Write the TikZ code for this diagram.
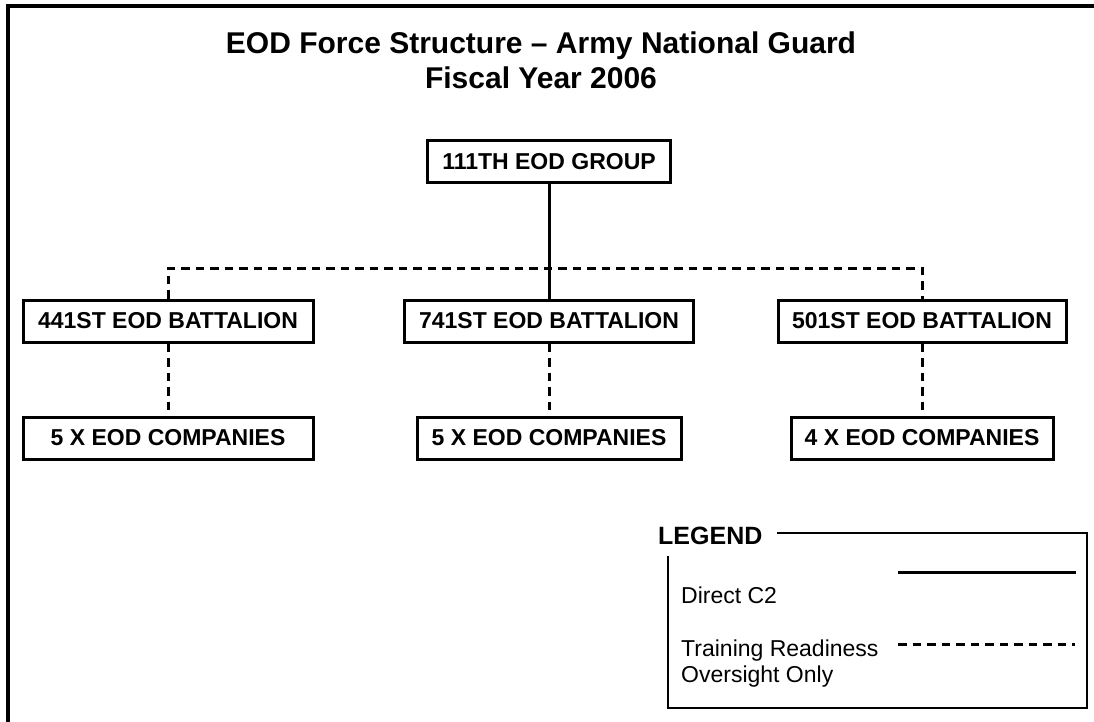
\documentclass[tikz,border=0pt]{standalone}
\usepackage{fontspec}
\setmainfont{Liberation Sans}
\usetikzlibrary{positioning,calc}

\tikzset{
  unitbox/.style={draw, line width=3pt, minimum height=42pt, inner sep=0pt,
    font=\bfseries\fontsize{23}{27}\selectfont},
  c2line/.style={line width=3pt},
  trainline/.style={line width=3pt, dash pattern=on 8.5pt off 6pt},
}

\begin{document}
\begin{tikzpicture}[x=1pt,y=-1pt]
      \useasboundingbox (0,0) rectangle (1094,722);

      % Frame
      \draw[line width=4pt] (8,722) -- (8,6) -- (1094,6);

      % Title
      \node[anchor=north, inner sep=0pt, align=center,
        font=\bfseries\fontsize{30}{35}\selectfont] (title) at (541,32)
        {EOD Force Structure – Army National Guard\\Fiscal Year 2006};

      % Units
      \node[unitbox, minimum width=243pt] (grp) at (549,162) {111TH EOD GROUP};
      \node[unitbox, minimum width=290pt] (bn441) at (168,321) {441ST EOD BATTALION};
      \node[unitbox, minimum width=289pt] (bn741) at (549,321) {741ST EOD BATTALION};
      \node[unitbox, minimum width=288pt] (bn501) at (922,321) {501ST EOD BATTALION};
      \node[unitbox, minimum width=290pt] (co441) at (168,438) {5 X EOD COMPANIES};
      \node[unitbox, minimum width=264pt] (co741) at (549,438) {5 X EOD COMPANIES};
      \node[unitbox, minimum width=262pt] (co501) at (922,438) {4 X EOD COMPANIES};

      % Connectors
      \coordinate (bus) at (549,268);
      \draw[c2line] (grp) -- (bn741);
      \draw[trainline] (bn441.north) |- (bus) -| (bn501.north);
      \foreach \u in {441,741,501} {
        \draw[trainline] (bn\u) -- (co\u);
      }

      % Legend
      \node[anchor=base west, inner sep=0pt,
        font=\bfseries\fontsize{25}{30}\selectfont] (legendhead) at (658,544) {LEGEND};
      \draw[line width=2.2pt] (777,533) -- (1087,533) -- (1087,708) -- (668,708) -- (668,556);
      \node[anchor=base west, inner sep=0pt, font=\fontsize{23}{26}\selectfont]
        (directtxt) at (681,603) {Direct C2};
      \node[anchor=north west, inner sep=0pt, align=left, font=\fontsize{23}{26}\selectfont]
        (traintxt) at (681,640) {Training Readiness\\Oversight Only};
      \draw[c2line] (898,572) -- (1076,572);
      \draw[trainline] (898,644) -- (1075,644);
\end{tikzpicture}
\end{document}
